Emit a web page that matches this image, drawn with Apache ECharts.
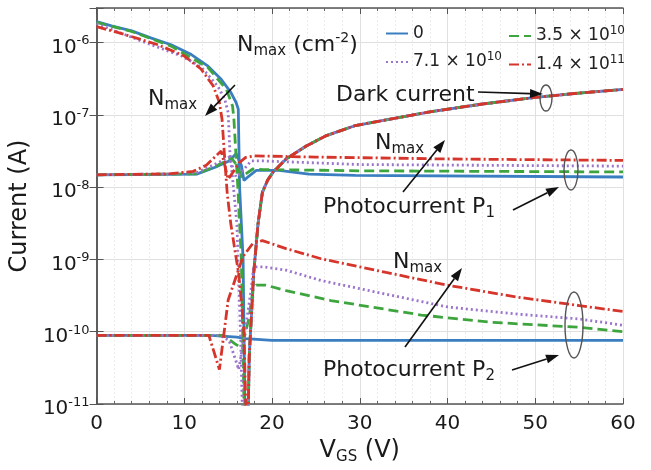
<!DOCTYPE html>
<html>
<head>
<meta charset="utf-8">
<script src="https://cdn.jsdelivr.net/npm/echarts@6/dist/echarts.min.js"></script>
<style>
html, body { margin: 0; padding: 0; background: #fff; }
#chart { width: 651px; height: 470px; }
</style>
</head>
<body>
<div id="chart"></div>
<script>
// N_max levels (cm^-2), one per legend entry
var levelNames = ['0', '3.5 × 10^10', '7.1 × 10^10', '1.4 × 10^11'];

// dark current, falling branch [V_GS (V), I (A)] per level; 5e-12 = below the axis
var darkFall0  = [[0, 1.95e-6], [1.7, 1.7e-6], [4.0, 1.45e-6], [6.25, 1.15e-6], [8.5, 9.3e-7], [10.8, 6.8e-7], [12.7, 4.7e-7], [14.2, 3.1e-7], [15.3, 2.04e-7], [15.9, 1.48e-7], [16.15, 1.2e-7], [16.3, 1e-8], [16.7, 1e-9], [16.9, 1e-11], [17.0, 5e-12]];
var darkFall35 = [[0, 1.9e-6], [4.0, 1.42e-6], [8.5, 8.9e-7], [12.7, 4.5e-7], [14.8, 2.24e-7], [15.5, 1.32e-7], [15.65, 8.7e-8], [16.1, 1e-8], [16.5, 1e-9], [16.8, 1e-11], [16.9, 5e-12]];
var darkFall71 = [[0, 1.82e-6], [5.1, 1.05e-6], [9.7, 6.5e-7], [11.9, 4.6e-7], [13.8, 2.5e-7], [14.6, 1.66e-7], [15.0, 1.07e-7], [15.2, 3e-8], [15.6, 1e-8], [16.0, 3e-9], [16.2, 5e-10], [16.4, 1e-10], [16.6, 1e-11], [16.7, 5e-12]];
var darkFall14 = [[0, 1.66e-6], [3.2, 1.29e-6], [7.0, 9.3e-7], [10, 6.5e-7], [11.9, 4.3e-7], [13.3, 2.5e-7], [14.0, 1.48e-7], [14.3, 8.7e-8], [14.6, 2.5e-8], [14.9, 7.9e-9], [15.3, 3.1e-9], [15.8, 1.26e-9], [16.2, 6.3e-10], [16.6, 2e-10], [16.8, 9.5e-11], [17.0, 1e-11], [17.1, 5e-12]];
// dark current, rising branch (the four levels overlap)
var darkRise = [[17.2, 5e-12], [17.3, 1e-11], [17.4, 4.6e-11], [17.9, 6.3e-10], [18.4, 3.1e-9], [18.9, 8.5e-9], [19.5, 1.25e-8], [20.1, 1.6e-8], [21.6, 2.45e-8], [23.9, 3.7e-8], [26.1, 5.1e-8], [29.5, 7.1e-8], [33, 8.5e-8], [38, 1.1e-7], [44, 1.41e-7], [50, 1.74e-7], [55, 2.0e-7], [60, 2.24e-7]];

// photocurrent P1
var p1_0  = [[0, 1.48e-8], [8, 1.5e-8], [11.4, 1.51e-8], [13.6, 1.9e-8], [15.1, 2.3e-8], [15.9, 2.9e-8], [16.5, 2e-8], [16.8, 1.23e-8], [17.3, 1.4e-8], [18.2, 1.7e-8], [20.8, 1.7e-8], [24.2, 1.51e-8], [29.5, 1.45e-8], [60, 1.38e-8]];
var p1_35 = [[0, 1.48e-8], [8, 1.51e-8], [11.4, 1.53e-8], [13.6, 1.95e-8], [15.4, 2.5e-8], [16.0, 2.0e-8], [16.5, 1.38e-8], [17.8, 1.78e-8], [19, 1.75e-8], [30, 1.68e-8], [60, 1.62e-8]];
var p1_71 = [[0, 1.48e-8], [8, 1.52e-8], [11.4, 1.58e-8], [13.6, 2.1e-8], [15.1, 2.6e-8], [15.9, 1.38e-8], [16.5, 1.6e-8], [17.6, 2.3e-8], [19, 2.3e-8], [30, 2.05e-8], [60, 1.95e-8]];
var p1_14 = [[0, 1.48e-8], [8, 1.52e-8], [11, 1.65e-8], [12.5, 2.0e-8], [13.6, 2.7e-8], [14.2, 3.16e-8], [15.0, 1.29e-8], [15.5, 1.58e-8], [16.3, 2.2e-8], [17.0, 2.57e-8], [18, 2.7e-8], [25, 2.6e-8], [40, 2.45e-8], [60, 2.34e-8]];

// photocurrent P2
var p2_0  = [[0, 8.9e-11], [13, 8.9e-11], [16, 8.4e-11], [17, 8.0e-11], [20, 7.6e-11], [60, 7.6e-11]];
var p2_35 = [[0, 8.9e-11], [14.5, 8.9e-11], [15.7, 6.9e-11], [16.2, 6.3e-11], [16.8, 8e-11], [17.4, 1.6e-10], [17.8, 3.7e-10], [18.2, 4.4e-10], [19.3, 4.4e-10], [21.6, 3.7e-10], [26.7, 2.7e-10], [37, 1.7e-10], [45, 1.35e-10], [55, 1.15e-10], [60, 1e-10]];
var p2_71 = [[0, 8.9e-11], [14, 8.9e-11], [15.1, 7.6e-11], [16.2, 3.0e-11], [16.8, 8e-11], [17.6, 3.7e-10], [17.9, 7.9e-10], [19, 7.9e-10], [21.6, 7.1e-10], [25.6, 5.1e-10], [33, 3.3e-10], [40, 2.2e-10], [48, 1.75e-10], [55, 1.5e-10], [60, 1.23e-10]];
var p2_14 = [[0, 8.9e-11], [12.8, 8.9e-11], [14.0, 3.0e-11], [15.0, 2.75e-10], [15.9, 5.75e-10], [16.7, 1.1e-9], [17.8, 1.66e-9], [18.9, 1.82e-9], [21.6, 1.41e-9], [25.6, 1.02e-9], [33, 6.6e-10], [40, 4.4e-10], [48, 3.0e-10], [55, 2.3e-10], [60, 1.9e-10]];

// y minor grid positions (2..9 per decade)
var minorY = [];
for (var d = -11; d <= -6; d++) {
    for (var k = 2; k <= 9; k++) {
        var v = k * Math.pow(10, d);
        if (v < 3e-6) minorY.push(v);
    }
}

var FONT = 'DejaVu Sans';
var colors = ['#3a7ec1', '#3ea53e', '#9b74cc', '#d6352c'];
var dashes = ['solid', [10, 5], [2, 3], [10, 3, 2, 3]];
var curves = [
    [darkFall0.concat(darkRise), p1_0, p2_0],
    [darkFall35.concat(darkRise), p1_35, p2_35],
    [darkFall71.concat(darkRise), p1_71, p2_71],
    [darkFall14.concat(darkRise), p1_14, p2_14]
];

var series = [{
    name: 'grid', type: 'line', data: [], z: 1, silent: true,
    markLine: {
        silent: true, symbol: 'none', label: { show: false },
        lineStyle: { color: '#e2e2e2', type: [2, 2], width: 1 },
        data: minorY.map(function (v) { return { yAxis: v }; })
    }
}];
curves.forEach(function (set, i) {
    set.forEach(function (pts) {
        series.push({
            name: levelNames[i],
            type: 'line',
            data: pts,
            symbol: 'none',
            z: 3 + i,
            color: colors[i],
            lineStyle: { color: colors[i], width: 2.8, type: dashes[i] }
        });
    });
});

var axisLineStyle = { color: '#555', width: 1.5 };

function legendFmt(name) {
    var p = name.split('^');
    return p.length > 1 ? '{t|' + p[0] + '}{e|' + p[1] + '}' : '{t|' + name + '}';
}
var legendText = {
    fontFamily: FONT, color: '#222',
    rich: {
        t: { fontFamily: FONT, fontSize: 17, lineHeight: 22, color: '#222' },
        e: { fontFamily: FONT, fontSize: 12, lineHeight: 12, verticalAlign: 'top', color: '#222' }
    }
};

// rich styles for annotations
var annRich = {
    n: { fontFamily: FONT, fontSize: 22, lineHeight: 28, fill: '#1a1a1a', color: '#1a1a1a' },
    sub: { fontFamily: FONT, fontSize: 15, lineHeight: 15, verticalAlign: 'bottom', fill: '#1a1a1a', color: '#1a1a1a' },
    sup: { fontFamily: FONT, fontSize: 14, lineHeight: 14, verticalAlign: 'top', fill: '#1a1a1a', color: '#1a1a1a' }
};
function label(x, y, text) {
    return { type: 'text', x: x, y: y, z: 20, style: { text: text, rich: annRich, verticalAlign: 'middle', fill: '#1a1a1a', font: '22px ' + FONT } };
}
function arrow(x1, y1, x2, y2) {
    var a = Math.atan2(y2 - y1, x2 - x1), L = 13, W = 4.5;
    var bx = x2 - L * Math.cos(a), by = y2 - L * Math.sin(a);
    var px = -Math.sin(a) * W, py = Math.cos(a) * W;
    return [
        { type: 'line', z: 20, shape: { x1: x1, y1: y1, x2: bx, y2: by }, style: { stroke: '#111', lineWidth: 1.6 } },
        { type: 'polygon', z: 20, shape: { points: [[x2, y2], [bx + px, by + py], [bx - px, by - py]] }, style: { fill: '#111' } }
    ];
}
function ellipse(cx, cy, rx, ry) {
    return { type: 'ellipse', z: 20, shape: { cx: cx, cy: cy, rx: rx, ry: ry }, style: { fill: 'none', stroke: '#555', lineWidth: 1.4 } };
}

var graphics = [
    label(237, 45, '{n|N}{sub|max}{n| (cm}{sup|-2}{n|)}'),
    label(148, 99, '{n|N}{sub|max}'),
    label(336, 95, '{n|Dark current}'),
    label(375, 143, '{n|N}{sub|max}'),
    label(323, 207, '{n|Photocurrent P}{sub|1}'),
    label(393, 262, '{n|N}{sub|max}'),
    label(323, 370, '{n|Photocurrent P}{sub|2}'),
    ellipse(546, 98, 6, 13),
    ellipse(571, 170, 7, 20),
    ellipse(574, 325, 9, 33)
].concat(
    arrow(235, 85, 205, 116),
    arrow(478, 92, 543, 94),
    arrow(403, 192, 445, 140),
    arrow(513, 210, 559, 187),
    arrow(405, 347, 462, 268),
    arrow(512, 370, 559, 355)
);

var legendBase = {
    top: 20, orient: 'vertical', itemGap: 9, itemWidth: 22, itemHeight: 10,
    itemStyle: { opacity: 0 },
    formatter: legendFmt, textStyle: legendText, selectedMode: false
};

var chart = echarts.init(document.getElementById('chart'));
chart.setOption({
    animation: false,
    backgroundColor: '#fff',
    grid: { left: 95, right: 28, top: 8, bottom: 64 },
    legend: [
        Object.assign({ left: 380, data: [levelNames[0], levelNames[2]] }, legendBase),
        Object.assign({ left: 503, data: [levelNames[1], levelNames[3]] }, legendBase)
    ],
    xAxis: [{
        type: 'value', min: 0, max: 60, interval: 10,
        name: '{v|V}{g|GS}{v| (V)}', nameLocation: 'middle', nameGap: 33,
        nameTextStyle: { rich: {
            v: { fontFamily: FONT, fontSize: 24, lineHeight: 28, color: '#1a1a1a' },
            g: { fontFamily: FONT, fontSize: 15, lineHeight: 15, verticalAlign: 'bottom', color: '#1a1a1a' }
        } },
        axisLine: { lineStyle: axisLineStyle },
        axisTick: { inside: true, length: 6, lineStyle: { color: '#555' } },
        minorTick: { show: true, splitNumber: 5, length: 3, lineStyle: { color: '#666' } },
        axisLabel: { fontFamily: FONT, fontSize: 20, color: '#1a1a1a', margin: 10 },
        splitLine: { show: true, lineStyle: { color: '#e0e0e0', width: 1 } },
        minorSplitLine: { show: true, lineStyle: { color: '#ececec', type: [2, 2] } }
    }, {
        type: 'value', min: 0, max: 60, interval: 10, position: 'top',
        axisLine: { show: true, lineStyle: axisLineStyle },
        axisTick: { inside: true, length: 6, lineStyle: { color: '#555' } },
        minorTick: { show: true, splitNumber: 5, length: 3, lineStyle: { color: '#666' } },
        axisLabel: { show: false },
        splitLine: { show: false }
    }],
    yAxis: [{
        type: 'log', logBase: 10, min: 1e-11, max: 3e-6,
        name: 'Current (A)', nameLocation: 'middle', nameGap: 57, nameRotate: 90,
        nameTextStyle: { fontFamily: FONT, fontSize: 24, color: '#1a1a1a' },
        axisLine: { show: true, lineStyle: axisLineStyle },
        axisTick: { inside: true, length: 7, lineStyle: { color: '#555' } },
        axisLabel: {
            margin: 7, padding: [10, 0, 0, 0], color: '#1a1a1a',
            formatter: function (v) {
                var e = Math.log10(v), r = Math.round(e);
                if (Math.abs(e - r) > 1e-6) return '';
                return '{b|10}{s|' + r + '}';
            },
            rich: {
                b: { fontFamily: FONT, fontSize: 20, lineHeight: 26, color: '#1a1a1a' },
                s: { fontFamily: FONT, fontSize: 13, lineHeight: 10, verticalAlign: 'top', color: '#1a1a1a' }
            }
        },
        splitLine: { show: true, lineStyle: { color: '#e0e0e0', width: 1 } }
    }, {
        type: 'log', logBase: 10, min: 1e-11, max: 3e-6, position: 'right',
        axisLine: { show: true, lineStyle: axisLineStyle },
        axisTick: { inside: true, length: 7, lineStyle: { color: '#555' } },
        axisLabel: { show: false },
        splitLine: { show: false }
    }],
    series: series,
    graphic: graphics
});
</script>
</body>
</html>
